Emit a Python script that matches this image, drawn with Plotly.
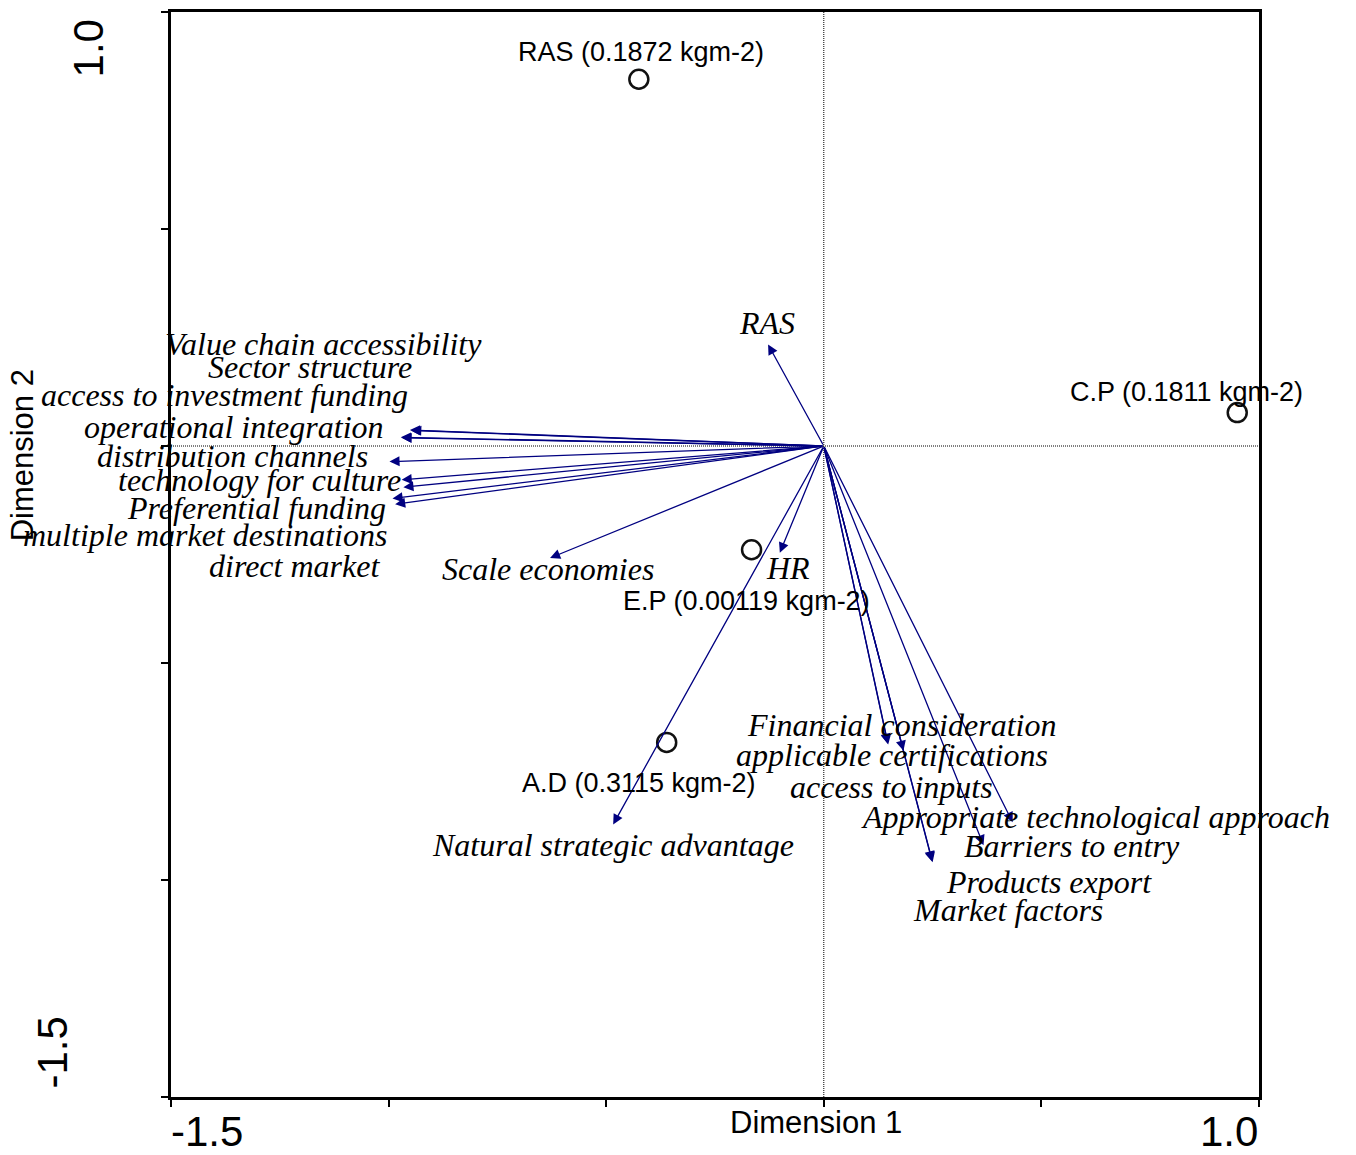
import plotly.graph_objects as go

# ---------------- data ----------------
variables = ["Value chain accessibility", "Sector structure", "access to investment funding",
             "operational integration", "distribution channels", "technology for culture",
             "Preferential funding", "multiple market destinations", "direct market",
             "Scale economies", "HR", "RAS", "Natural strategic advantage",
             "Financial consideration", "applicable certifications", "access to inputs",
             "Appropriate technological approach", "Barriers to entry", "Products export",
             "Market factors"]
var_dim1 = [-0.951, -0.948, -0.972, -0.970, -0.998, -0.970, -0.966, -0.991, -0.985,
            -0.629, -0.101, -0.128, -0.484,
            0.148, 0.183, 0.147, 0.434, 0.367, 0.250, 0.249]
var_dim2 = [0.037, 0.036, 0.020, 0.019, -0.036, -0.078, -0.095, -0.121, -0.134,
            -0.258, -0.246, 0.234, -0.872,
            -0.688, -0.702, -0.686, -0.867, -0.920, -0.959, -0.957]

objects = ["RAS (0.1872 kgm-2)", "C.P (0.1811 kgm-2)", "E.P (0.00119 kgm-2)", "A.D (0.3115 kgm-2)"]
obj_dim1 = [-0.425, 0.950, -0.166, -0.361]
obj_dim2 = [0.845, 0.077, -0.239, -0.683]

tick_values = [-1.5, -1.0, -0.5, 0.0, 0.5, 1.0]
axis_range = [-1.5, 1.0]
x_tick_labels = ["-1.5", "1.0"]
y_tick_labels = ["1.0", "-1.5"]

# ---------------- layout helpers (pixel offsets of labels) ----------------
var_label_shift = [(-86, 86), (-101, 63), (-176, 42), (-168, 11), (-157, 6), (-142, 0),
                   (-147, -21), (-188, -36), (-101, -62),
                   (-2, -11), (8, -15), (-1, 21), (0, -21),
                   (13, 20), (-11, -4), (4, -43), (83, 5), (88, -1), (116, -20), (76, -49)]
obj_label_shift = [(2, 27), (-51, 21), (-5, -51), (-28, -41)]

ARROW = "#000080"
SERIF = "Liberation Serif, Times New Roman, serif"
SANS = "Liberation Sans, Arial, sans-serif"

fig = go.Figure()

# object points (open circles)
fig.add_trace(go.Scatter(
    x=obj_dim1, y=obj_dim2, mode="markers",
    marker=dict(symbol="circle-open", size=19, color="#111111", line=dict(width=2.5, color="#111111")),
    showlegend=False, hoverinfo="text", text=objects))

annotations = []
# arrows from origin to each variable loading
for name, x, y in zip(variables, var_dim1, var_dim2):
    annotations.append(dict(
        x=x, y=y, ax=0, ay=0, xref="x", yref="y", axref="x", ayref="y",
        text="", showarrow=True, arrowhead=2, arrowsize=1.55, arrowwidth=1.3,
        arrowcolor=ARROW, standoff=0, startstandoff=0))

# variable labels
for name, x, y, (sx, sy) in zip(variables, var_dim1, var_dim2, var_label_shift):
    annotations.append(dict(
        x=x, y=y, xref="x", yref="y", text="<i>" + name + "</i>", showarrow=False,
        xanchor="center", yanchor="middle", xshift=sx, yshift=sy,
        font=dict(family=SERIF, size=32, color="black")))

# object labels
for name, x, y, (sx, sy) in zip(objects, obj_dim1, obj_dim2, obj_label_shift):
    annotations.append(dict(
        x=x, y=y, xref="x", yref="y", text=name, showarrow=False,
        xanchor="center", yanchor="middle", xshift=sx, yshift=sy,
        font=dict(family=SANS, size=27, color="black")))

# axis end labels and titles
annotations += [
    dict(x=0, y=-0.032, xref="paper", yref="paper", text=x_tick_labels[0], showarrow=False,
         xanchor="left", yanchor="middle", xshift=-2, font=dict(family=SANS, size=42, color="black")),
    dict(x=1, y=-0.032, xref="paper", yref="paper", text=x_tick_labels[1], showarrow=False,
         xanchor="right", yanchor="middle", xshift=1, font=dict(family=SANS, size=42, color="black")),
    dict(x=-0.0758, y=0.966, xref="paper", yref="paper", text=y_tick_labels[0], showarrow=False,
         textangle=-90, xanchor="center", yanchor="middle", font=dict(family=SANS, size=42, color="black")),
    dict(x=-0.109, y=0.0414, xref="paper", yref="paper", text=y_tick_labels[1], showarrow=False,
         textangle=-90, xanchor="center", yanchor="middle", font=dict(family=SANS, size=42, color="black")),
    dict(x=0.593, y=-0.0235, xref="paper", yref="paper", text="Dimension 1", showarrow=False,
         xanchor="center", yanchor="middle", font=dict(family=SANS, size=31, color="black")),
    dict(x=-0.1364, y=0.591, xref="paper", yref="paper", text="Dimension 2", showarrow=False,
         textangle=-90, xanchor="center", yanchor="middle", font=dict(family=SANS, size=31, color="black")),
]

shapes = [
    dict(type="line", xref="x", yref="y", x0=0, x1=0, y0=axis_range[0], y1=axis_range[1],
         line=dict(color="black", width=1, dash="1px,1px"), layer="below"),
    dict(type="line", xref="x", yref="y", x0=axis_range[0], x1=axis_range[1], y0=0, y1=0,
         line=dict(color="black", width=1, dash="1px,1px"), layer="below"),
]

axis_style = dict(range=axis_range, showgrid=False, zeroline=False, showline=True,
                  linecolor="black", linewidth=2.5, mirror=True, ticks="outside",
                  ticklen=7, tickwidth=2, tickcolor="black", tickvals=tick_values,
                  showticklabels=False)

fig.update_layout(
    width=1356, height=1155,
    margin=dict(l=171, r=97, t=9, b=58),
    plot_bgcolor="white", paper_bgcolor="white",
    xaxis=axis_style, yaxis=axis_style,
    annotations=annotations, shapes=shapes,
    showlegend=False,
)

fig.write_html("out.html", config={"displayModeBar": False},
               post_script="document.body.style.margin='0px';document.body.style.overflow='hidden';")
